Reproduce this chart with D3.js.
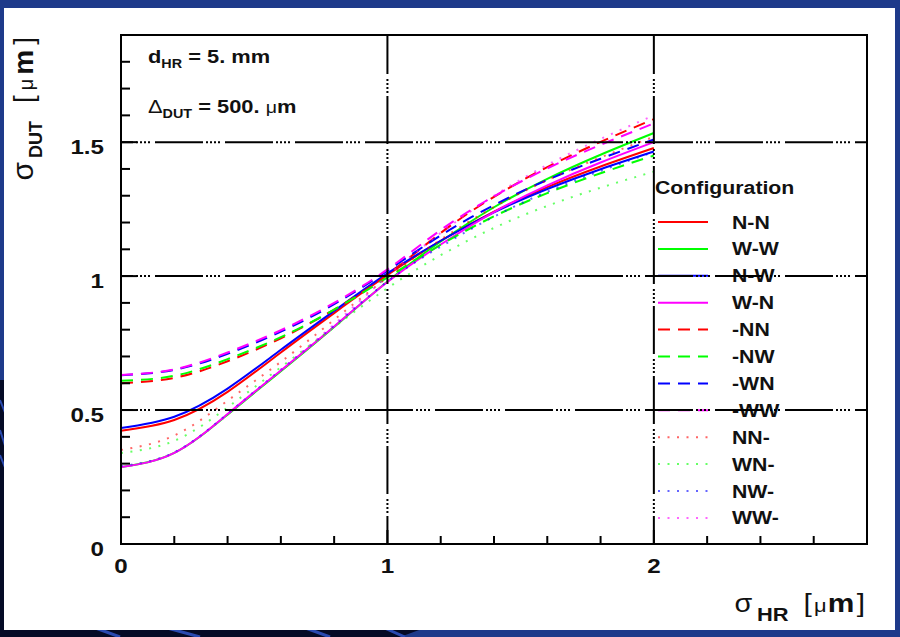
<!DOCTYPE html>
<html>
<head>
<meta charset="utf-8">
<script src="https://cdn.jsdelivr.net/npm/d3@7"></script>
<style>
  html, body { margin: 0; padding: 0; background: #1e3a8a; }
  svg { display: block; }
  text { font-family: "Liberation Sans", Arial, sans-serif; fill: #111; }
</style>
</head>
<body>
<div id="chart"></div>
<script>
// sigma_HR sample points (x) and sigma_DUT values (y)
const sigmaHR = [0, 0.2, 0.4, 0.6, 0.8, 1.0, 1.2, 1.4, 1.6, 1.8, 2.0];

const valNN_ = [0.423, 0.463, 0.568, 0.715, 0.862, 1.004, 1.132, 1.241, 1.332, 1.409, 1.478]; // N-N
const valWW_ = [0.287, 0.340, 0.483, 0.645, 0.810, 0.980, 1.129, 1.257, 1.363, 1.453, 1.534]; // W-W
const valNW_ = [0.433, 0.475, 0.580, 0.725, 0.870, 1.010, 1.132, 1.238, 1.325, 1.399, 1.465]; // N-W
const valWN_ = [0.287, 0.340, 0.485, 0.648, 0.812, 0.978, 1.118, 1.239, 1.339, 1.424, 1.500]; // W-N
const valXNN = [0.600, 0.620, 0.682, 0.768, 0.875, 1.005, 1.161, 1.296, 1.407, 1.501, 1.586]; // -NN
const valXNW = [0.609, 0.628, 0.690, 0.772, 0.875, 0.995, 1.117, 1.223, 1.310, 1.384, 1.450]; // -NW
const valXWN = [0.630, 0.650, 0.710, 0.793, 0.895, 1.020, 1.152, 1.265, 1.359, 1.438, 1.510]; // -WN
const valXWW = [0.631, 0.652, 0.715, 0.798, 0.900, 1.025, 1.172, 1.298, 1.402, 1.490, 1.570]; // -WW
const valNNX = [0.351, 0.405, 0.535, 0.680, 0.837, 0.995, 1.136, 1.258, 1.358, 1.443, 1.520]; // NN-
const valWNX = [0.340, 0.385, 0.510, 0.660, 0.810, 0.955, 1.078, 1.180, 1.262, 1.330, 1.390]; // WN-
const valNWX = [0.290, 0.342, 0.486, 0.650, 0.815, 0.980, 1.110, 1.222, 1.315, 1.393, 1.464]; // NW-
const valWWX = [0.287, 0.340, 0.483, 0.650, 0.820, 1.000, 1.161, 1.300, 1.415, 1.512, 1.600]; // WW-

const configNames = ["N-N", "W-W", "N-W", "W-N", "-NN", "-NW", "-WN", "-WW", "NN-", "WN-", "NW-", "WW-"];
const configValues = [valNN_, valWW_, valNW_, valWN_, valXNN, valXNW, valXWN, valXWW, valNNX, valWNX, valNWX, valWWX];
const configColors = ["#ff0000", "#00ff00", "#0000ff", "#ff00ff",
                      "#ff0000", "#00ff00", "#0000ff", "#ff00ff",
                      "#ff0000", "#00ff00", "#0000ff", "#ff00ff"];
const configStyles = ["solid", "solid", "solid", "solid",
                      "dashed", "dashed", "dashed", "dashed",
                      "dotted", "dotted", "dotted", "dotted"];

const xTickLabels = [0, 1, 2];
const yTickLabels = [0, 0.5, 1, 1.5];

const width = 900, height = 637;
const SX = 1.15; // glyphs in the picture are a bit wider than Liberation Sans

const svg = d3.select("#chart").append("svg")
    .attr("width", width)
    .attr("height", height);

// slide background
svg.append("rect").attr("width", width).attr("height", height).attr("fill", "#1e3a8a");
const dark = svg.append("g");
dark.append("path")
    .attr("d", "M0,380 L10,380 L10,637 L0,637 Z M0,626 L430,626 L400,637 L0,637 Z")
    .attr("fill", "#050b26");
[[90, 30], [160, 40], [300, 30], [380, 25]].forEach(([sx, w]) => {
    dark.append("path")
        .attr("d", `M${sx},626 L${sx + w},637`)
        .attr("stroke", "#2a4ab0").attr("stroke-width", 3);
});
[[400, 20], [430, 25], [455, 20]].forEach(([sy, w]) => {
    dark.append("path")
        .attr("d", `M0,${sy} L8,${sy + w}`)
        .attr("stroke", "#2a4ab0").attr("stroke-width", 2);
});

// white canvas
svg.append("rect")
    .attr("x", 4).attr("y", 8)
    .attr("width", 891).attr("height", 622)
    .attr("fill", "#ffffff");

const x = d3.scaleLinear().domain([0, 2.8]).range([121, 867]);
const y = d3.scaleLinear().domain([0, 1.9]).range([544, 35]);

const dashFor = s => s === "dashed" ? "12 8" : s === "dotted" ? "2 7.5" : null;

// curves
const line = d3.line()
    .x((d, i) => x(sigmaHR[i]))
    .y(d => y(d))
    .curve(d3.curveNatural);

const curves = svg.append("g");
configValues.forEach((vals, i) => {
    curves.append("path")
        .attr("d", line(vals))
        .attr("fill", "none")
        .attr("stroke", configColors[i])
        .attr("stroke-width", 2)
        .attr("stroke-dasharray", dashFor(configStyles[i]))
        .attr("opacity", configStyles[i] === "dotted" ? 0.6 : 1);
});

function htext(g, px, py, anchor) {
    return g.append("text")
        .attr("transform", `translate(${px},${py}) scale(${SX},1)`)
        .attr("text-anchor", anchor || "start");
}

// legend
const legend = svg.append("g");
htext(legend, 655, 194).attr("font-size", 18.5).attr("font-weight", "bold").text("Configuration");
configNames.forEach((name, i) => {
    const ly = 222 + 26.9 * i;
    legend.append("line")
        .attr("x1", 658).attr("x2", 708)
        .attr("y1", ly).attr("y2", ly)
        .attr("stroke", configColors[i])
        .attr("stroke-width", 2)
        .attr("stroke-dasharray", dashFor(configStyles[i]))
        .attr("opacity", configStyles[i] === "dotted" ? 0.6 : 1);
    htext(legend, 732, ly + 6.5).attr("font-size", 18.5).attr("font-weight", "bold").text(name);
});

// grid (dash - dot pattern)
const gridDash = "48 3 2 2 2 2 2 2 2 5";
const grid = svg.append("g").attr("stroke", "#000").attr("stroke-width", 2).attr("stroke-dasharray", gridDash);
yTickLabels.filter(v => v > 0).forEach(v => {
    grid.append("line").attr("x1", x(0)).attr("x2", x(2.8)).attr("y1", y(v)).attr("y2", y(v))
        .attr("stroke-dashoffset", 36);
});
xTickLabels.filter(v => v > 0).forEach(v => {
    grid.append("line").attr("x1", x(v)).attr("x2", x(v)).attr("y1", y(0)).attr("y2", y(1.9))
        .attr("stroke-dashoffset", 20);
});

// frame and ticks
const axes = svg.append("g").attr("stroke", "#000");
axes.append("rect")
    .attr("x", x(0)).attr("y", y(1.9))
    .attr("width", x(2.8) - x(0)).attr("height", y(0) - y(1.9))
    .attr("fill", "none").attr("stroke-width", 2);
d3.range(1, 14).map(k => k * 0.2).forEach(v => {
    const len = Math.abs(v - Math.round(v)) < 1e-6 ? 14 : 8;
    axes.append("line").attr("x1", x(v)).attr("x2", x(v))
        .attr("y1", y(0)).attr("y2", y(0) - len).attr("stroke-width", 2);
});
d3.range(1, 19).map(k => k * 0.1).forEach(v => {
    const len = Math.abs(v * 2 - Math.round(v * 2)) < 1e-6 ? 16 : 9;
    axes.append("line").attr("x1", x(0)).attr("x2", x(0) + len)
        .attr("y1", y(v)).attr("y2", y(v)).attr("stroke-width", 2);
});

// tick labels
const labels = svg.append("g");
xTickLabels.forEach(v => {
    htext(labels, x(v), 573, "middle").attr("font-size", 21).attr("font-weight", "bold").text(v);
});
yTickLabels.forEach(v => {
    htext(labels, 104, y(v) + 12, "end").attr("font-size", 21).attr("font-weight", "bold").text(v);
});

// axis titles
const xt = htext(svg, 865, 612, "end").attr("font-size", 26).attr("font-weight", "bold");
xt.append("tspan").attr("font-weight", "normal").attr("font-size", 25).text("σ");
xt.append("tspan").attr("font-size", 19).attr("dy", 9).attr("dx", 4).text("HR");
xt.append("tspan").attr("dy", -9).attr("dx", 13).attr("font-weight", "normal").text("[");
xt.append("tspan").attr("dx", 2).attr("font-weight", "normal").attr("font-size", 19).text("μ");
xt.append("tspan").attr("dx", 1).text("m");
xt.append("tspan").attr("dx", 2).attr("font-weight", "normal").text("]");

const yt = svg.append("text")
    .attr("transform", "translate(33,37) rotate(-90)")
    .attr("text-anchor", "end")
    .attr("font-size", 28).attr("font-weight", "bold");
yt.append("tspan").attr("font-weight", "normal").attr("font-size", 30).text("σ");
yt.append("tspan").attr("font-size", 18).attr("dy", 9).attr("dx", 4).text("DUT");
yt.append("tspan").attr("dy", -9).attr("dx", 18).attr("font-weight", "normal").text("[");
yt.append("tspan").attr("dx", 5).attr("font-weight", "normal").attr("font-size", 20).text("μ");
yt.append("tspan").attr("dx", 4).text("m");
yt.append("tspan").attr("dx", 5).attr("font-weight", "normal").text("]");

// annotations
const a1 = htext(svg, 148, 63).attr("font-size", 19).attr("font-weight", "bold");
a1.append("tspan").text("d");
a1.append("tspan").attr("font-size", 12.5).attr("dy", 5).text("HR");
a1.append("tspan").attr("dy", -5).text(" = 5. mm");

const a2 = htext(svg, 148, 113).attr("font-size", 19).attr("font-weight", "bold");
a2.append("tspan").attr("font-weight", "normal").text("Δ");
a2.append("tspan").attr("font-size", 12.5).attr("dy", 5).text("DUT");
a2.append("tspan").attr("dy", -5).text(" = 500. ");
a2.append("tspan").attr("font-weight", "normal").attr("font-size", 17).text("μ");
a2.append("tspan").text("m");
</script>
</body>
</html>
